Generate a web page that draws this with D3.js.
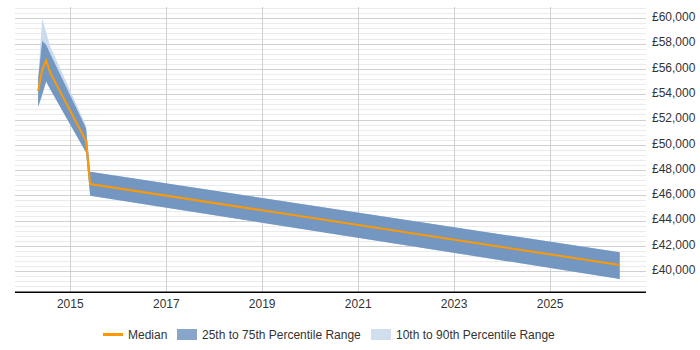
<!DOCTYPE html>
<html>
<head>
<meta charset="utf-8">
<script src="https://cdn.jsdelivr.net/npm/d3@7"></script>
<style>
  body { margin: 0; background: #fff; }
  text { font-family: "Liberation Sans", Arial, sans-serif; font-size: 12px; fill: #333; }
</style>
</head>
<body>
<svg width="700" height="350"></svg>
<script>
// data
var dates = ['2014-05-01', '2014-06-01', '2014-07-01', '2014-08-01', '2015-05-01', '2015-06-01', '2026-06-15'];
var median = [54250, 55900, 56650, 55700, 50300, 46900, 40500];
var p25 = [53000, 54000, 55000, 54400, 49400, 45980, 39400];
var p75 = [55200, 58200, 57900, 57200, 51300, 47870, 41500];
var p10 = [53000, 53800, 55000, 54400, 49400, 45980, 39400];
var p90 = [55200, 60000, 58900, 57800, 51500, 47870, 41500];
var yearTicks = [2015, 2017, 2019, 2021, 2023, 2025];
var legendItems = ['Median', '25th to 75th Percentile Range', '10th to 90th Percentile Range'];

var parse = d3.timeParse('%Y-%m-%d');
var rows = dates.map(function(d, i) {
  return {date: parse(d), median: median[i], p25: p25[i], p75: p75[i], p10: p10[i], p90: p90[i]};
});

var svg = d3.select('svg');

// scales
var x = d3.scaleTime()
  .domain([new Date(2013, 10, 6), new Date(2027, 0, 1)])
  .range([15, 646]);

var y = d3.scaleLinear()
  .domain([40000, 60000])
  .range([271.3, 18.3]);

var plotTop = 7, plotBottom = 292.3;

// minor grid
svg.append('g').selectAll('line')
  .data(d3.range(38400, 60801, 400).filter(function(v) { return v % 2000 !== 0; }))
  .enter().append('line')
  .attr('x1', 15).attr('x2', 646)
  .attr('y1', function(d) { return Math.round(y(d)) + 0.5; })
  .attr('y2', function(d) { return Math.round(y(d)) + 0.5; })
  .attr('stroke', '#ebebeb');

// major grid
svg.append('g').selectAll('line')
  .data(d3.range(40000, 60001, 2000))
  .enter().append('line')
  .attr('x1', 15).attr('x2', 646)
  .attr('y1', function(d) { return Math.round(y(d)) + 0.5; })
  .attr('y2', function(d) { return Math.round(y(d)) + 0.5; })
  .attr('stroke', '#d0d0d0');

// vertical grid
svg.append('g').selectAll('line')
  .data(yearTicks)
  .enter().append('line')
  .attr('x1', function(d) { return Math.round(x(new Date(d, 0, 1))) + 0.5; })
  .attr('x2', function(d) { return Math.round(x(new Date(d, 0, 1))) + 0.5; })
  .attr('y1', plotTop).attr('y2', plotBottom)
  .attr('stroke', '#d0d0d0');

// bands
var area = function(lo, hi) {
  return d3.area()
    .x(function(d) { return x(d.date); })
    .y0(function(d) { return y(d[lo]); })
    .y1(function(d) { return y(d[hi]); });
};

svg.append('path').datum(rows)
  .attr('d', area('p10', 'p90'))
  .attr('fill', '#c9dbed');

svg.append('path').datum(rows)
  .attr('d', area('p25', 'p75'))
  .attr('fill', '#7397c0');

svg.append('path').datum(rows)
  .attr('d', d3.line()
    .x(function(d) { return x(d.date); })
    .y(function(d) { return y(d.median); }))
  .attr('fill', 'none')
  .attr('stroke', '#ff9900')
  .attr('stroke-width', 2);

// x axis
svg.append('line')
  .attr('x1', 15).attr('x2', 646)
  .attr('y1', plotBottom).attr('y2', plotBottom)
  .attr('stroke', '#000')
  .attr('stroke-width', 1.5);

svg.append('g').selectAll('text')
  .data(yearTicks)
  .enter().append('text')
  .attr('x', function(d) { return x(new Date(d, 0, 1)); })
  .attr('y', 308)
  .attr('text-anchor', 'middle')
  .text(function(d) { return d; });

// y labels
var fmt = d3.format(',');
svg.append('g').selectAll('text')
  .data(d3.range(40000, 60001, 2000))
  .enter().append('text')
  .attr('x', 652)
  .attr('y', function(d) { return y(d) - 1.5; })
  .attr('dy', '0.35em')
  .text(function(d) { return '£' + fmt(d); });

// legend
var leg = svg.append('g');
leg.append('line')
  .attr('x1', 103).attr('x2', 123)
  .attr('y1', 334.5).attr('y2', 334.5)
  .attr('stroke', '#ff9900')
  .attr('stroke-width', 3);
leg.append('text').attr('x', 128).attr('y', 338.5).text(legendItems[0]);

leg.append('rect')
  .attr('x', 177).attr('y', 329).attr('width', 20).attr('height', 11)
  .attr('fill', '#88a6c9');
leg.append('text').attr('x', 202).attr('y', 338.5).text(legendItems[1]);

leg.append('rect')
  .attr('x', 371).attr('y', 329).attr('width', 20).attr('height', 11)
  .attr('fill', '#cfdfee');
leg.append('text').attr('x', 396).attr('y', 338.5).text(legendItems[2]);
</script>
</body>
</html>
